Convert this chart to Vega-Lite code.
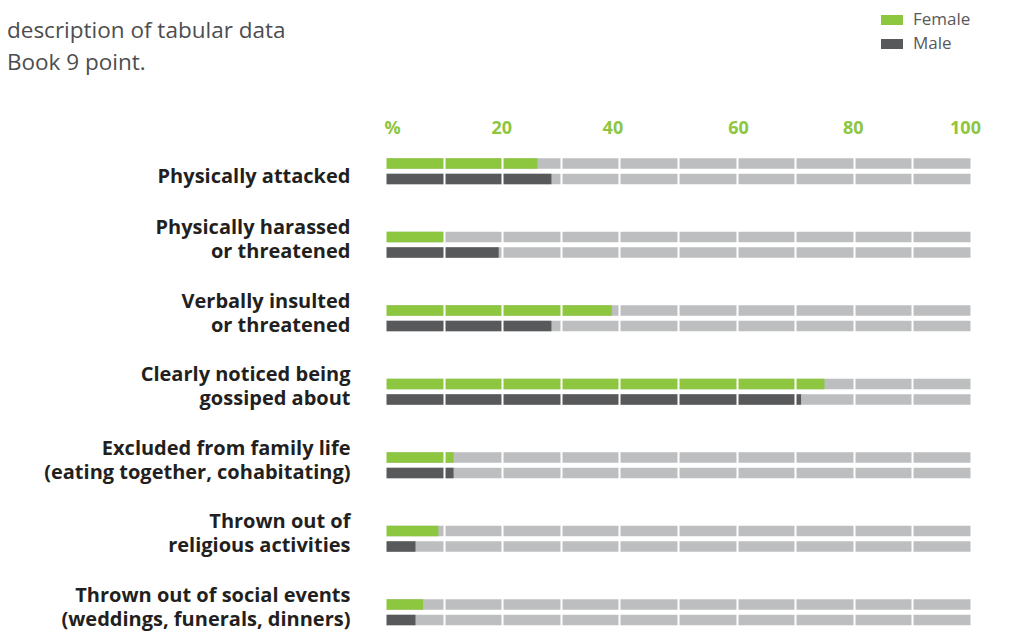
{
  "$schema": "https://vega.github.io/schema/vega-lite/v6.json",
  "width": 586,
  "height": 504,
  "autosize": {"type": "none"},
  "padding": {"left": 385, "top": 134, "right": 40, "bottom": 0},
  "background": "white",
  "config": {"view": {"stroke": null}, "font": "Open Sans"},
  "title": {
    "text": ["description of tabular data", "Book 9 point."],
    "anchor": "start",
    "frame": "group",
    "dx": -378,
    "fontSize": 22.5,
    "fontWeight": "normal",
    "color": "#4d4d4f",
    "lineHeight": 32,
    "offset": -64,
    "font": "Open Sans"
  },
  "data": {
    "values": [
      {"category": "Physically attacked", "sex": "Female", "value": 26},
      {"category": "Physically attacked", "sex": "Male", "value": 28.4},
      {"category": "Physically harassed|or threatened", "sex": "Female", "value": 10.3},
      {"category": "Physically harassed|or threatened", "sex": "Male", "value": 19.4},
      {"category": "Verbally insulted|or threatened", "sex": "Female", "value": 38.7},
      {"category": "Verbally insulted|or threatened", "sex": "Male", "value": 28.4},
      {"category": "Clearly noticed being|gossiped about", "sex": "Female", "value": 75},
      {"category": "Clearly noticed being|gossiped about", "sex": "Male", "value": 71},
      {"category": "Excluded from family life|(eating together, cohabitating)", "sex": "Female", "value": 11.7},
      {"category": "Excluded from family life|(eating together, cohabitating)", "sex": "Male", "value": 11.7},
      {"category": "Thrown out of|religious activities", "sex": "Female", "value": 9.1},
      {"category": "Thrown out of|religious activities", "sex": "Male", "value": 5.2},
      {"category": "Thrown out of social events|(weddings, funerals, dinners)", "sex": "Female", "value": 6.5},
      {"category": "Thrown out of social events|(weddings, funerals, dinners)", "sex": "Male", "value": 5.2}
    ]
  },
  "encoding": {
    "y": {
      "field": "category",
      "type": "nominal",
      "sort": null,
      "scale": {"paddingInner": 0, "paddingOuter": 0, "range": [0, 514.5]},
      "axis": {
        "title": null,
        "domain": false,
        "ticks": false,
        "labelExpr": "split(datum.label, '|')",
        "labelFont": "Open Sans",
        "labelFontSize": 20,
        "labelFontWeight": "bold",
        "labelColor": "#231f20",
        "labelPadding": 35,
        "labelLimit": 500,
        "labelLineHeight": 24,
        "labelBaseline": "bottom",
        "labelOffset": {"condition": {"test": "indexof(datum.value, '|') < 0", "value": 16}, "value": -6},
        "labelAlign": "right"
      }
    },
    "yOffset": {
      "field": "sex",
      "type": "nominal",
      "sort": ["Female", "Male"],
      "scale": {"paddingInner": 0.323, "paddingOuter": 0, "range": [24.25, 50.25]}
    }
  },
  "layer": [
    {
      "mark": {"type": "bar", "color": "#bcbec0"},
      "encoding": {
        "x": {
          "datum": 100,
          "type": "quantitative",
          "scale": {"domain": [0, 100], "nice": false},
          "axis": {
            "orient": "top",
            "title": null,
            "values": [0, 10, 20, 30, 40, 50, 60, 70, 80, 90, 100],
            "labelExpr": "datum.value == 0 ? '%' : (datum.value % 20 == 0 ? datum.label : '')",
            "labelAlign": {"condition": {"test": "datum.value == 0", "value": "left"}, "value": "center"},
            "labelOffset": {
              "condition": [
                {"test": "datum.value == 20", "value": -1},
                {"test": "datum.value == 40", "value": -7},
                {"test": "datum.value == 60", "value": 1.5},
                {"test": "datum.value == 80", "value": -1},
                {"test": "datum.value == 100", "value": -6}
              ],
              "value": -1
            },
            "grid": true,
            "gridColor": "white",
            "gridWidth": 2,
            "gridOpacity": 1,
            "zindex": 1,
            "domain": false,
            "ticks": false,
            "labelColor": "#8dc63f",
            "labelFont": "Open Sans",
            "labelFontSize": 18,
            "labelFontWeight": "bold",
            "labelPadding": -3
          }
        }
      }
    },
    {
      "mark": {"type": "bar"},
      "encoding": {
        "x": {"field": "value", "type": "quantitative"},
        "color": {
          "field": "sex",
          "type": "nominal",
          "scale": {"domain": ["Female", "Male"], "range": ["#8dc63f", "#58595b"]},
          "legend": {
            "title": null,
            "orient": "none",
            "legendX": 497,
            "legendY": -124,
            "direction": "vertical",
            "symbolType": "M-1.1,-0.5H1.1V0.5H-1.1Z",
            "symbolSize": 400,
            "symbolStrokeWidth": 0,
            "symbolOpacity": 1,
            "labelFont": "Open Sans",
            "labelFontSize": 17,
            "labelColor": "#58595b",
            "labelOffset": 11,
            "rowPadding": 6
          }
        }
      }
    }
  ]
}
